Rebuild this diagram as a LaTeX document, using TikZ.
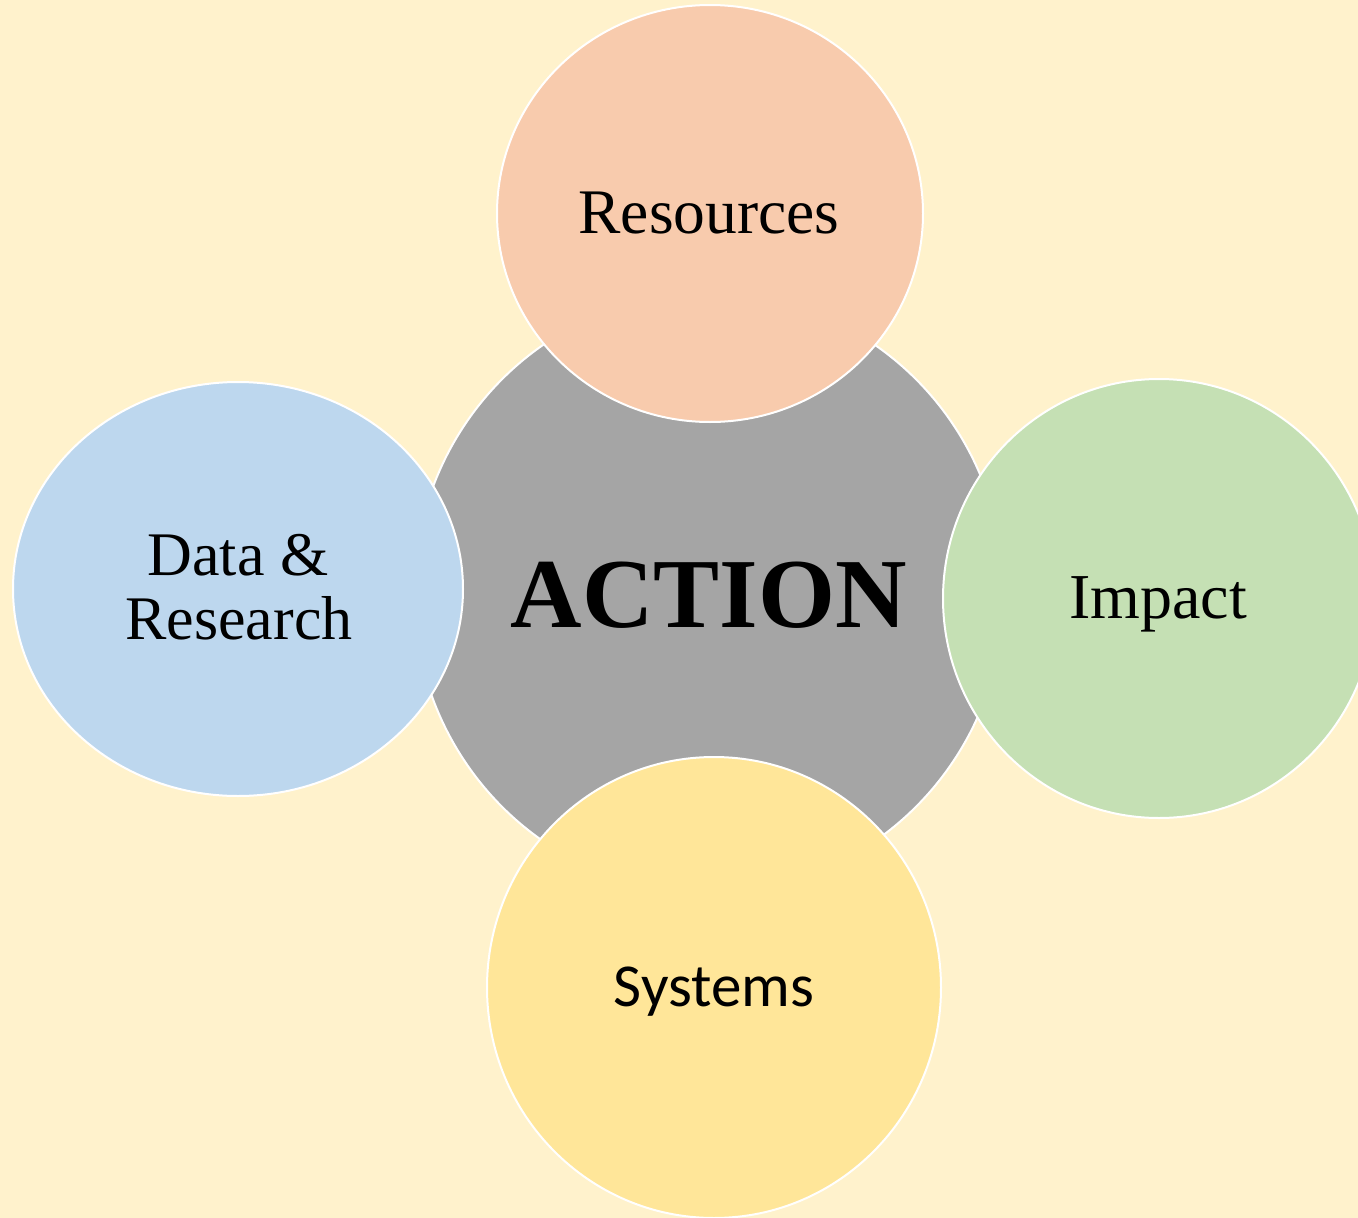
\documentclass[tikz,border=0pt]{standalone}
\usepackage{fontspec}
\setmainfont{Liberation Serif}
\newfontfamily\sysfont{Carlito}
\usetikzlibrary{shapes.geometric}
\definecolor{bgcol}{HTML}{FFF2CC}
\definecolor{graycol}{HTML}{A5A5A5}
\definecolor{peachcol}{HTML}{F8CBAD}
\definecolor{bluecol}{HTML}{BDD7EE}
\definecolor{greencol}{HTML}{C5E0B4}
\definecolor{yellowcol}{HTML}{FFE699}
\tikzset{
  blob/.style={ellipse, draw=white, line width=2pt, inner sep=0pt, outer sep=0pt},
  lbl/.style={anchor=base, inner sep=0pt, text=black}
}
\begin{document}
\begin{tikzpicture}[x=1pt,y=-1pt]
\useasboundingbox (0,0) rectangle (1358,1218);
\clip (0,0) rectangle (1358,1218);
\fill[bgcol] (0,0) rectangle (1358,1218);
\node[blob, fill=graycol, minimum width=590pt, minimum height=600pt] (action) at (709,593) {};
\node[blob, fill=peachcol, minimum width=426pt, minimum height=417pt] (res) at (710,213.5) {};
\node[blob, fill=bluecol, minimum width=450pt, minimum height=414pt] (data) at (238,589) {};
\node[blob, fill=greencol, minimum width=432pt, minimum height=439pt] (imp) at (1159,598.5) {};
\node[blob, fill=yellowcol, minimum width=454pt, minimum height=461pt] (sys) at (714,987.5) {};
\node[lbl, font=\fontsize{99}{110}\selectfont\bfseries] (actiontxt) at (709,627) {ACTION};
\node[lbl, font=\fontsize{63.5}{70}\selectfont] (restxt) at (709,233) {Resources};
\node[lbl, font=\fontsize{62}{68}\selectfont] (datatxt) at (238,575) {Data \&};
\node[lbl, font=\fontsize{62}{68}\selectfont] (researchtxt) at (239,639) {Research};
\node[lbl, font=\fontsize{64}{70}\selectfont] (imptxt) at (1158,618) {Impact};
\node[lbl, font=\fontsize{61}{67}\selectfont\sysfont] (systxt) at (714,1006) {Systems};
\end{tikzpicture}
\end{document}
